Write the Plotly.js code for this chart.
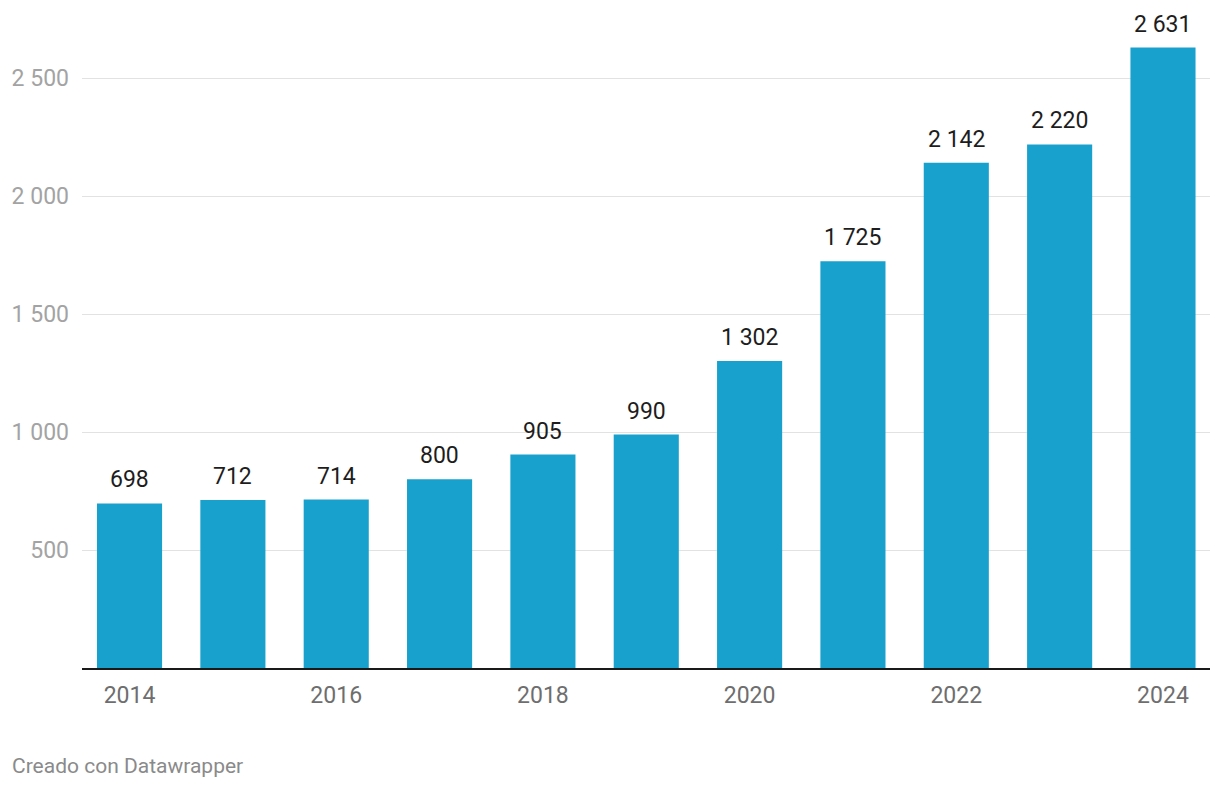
<!DOCTYPE html>
<html>
<head>
<meta charset="utf-8">
<script src="https://cdn.plot.ly/plotly-3.0.1.min.js"></script>
<style>
html,body{margin:0;padding:0;background:#fff;}
#chart{width:1220px;height:790px;}
</style>
</head>
<body>
<div id="chart"></div>
<script>
const years = [2014, 2015, 2016, 2017, 2018, 2019, 2020, 2021, 2022, 2023, 2024];
const values = [698, 712, 714, 800, 905, 990, 1302, 1725, 2142, 2220, 2631];
const xTickVals = [2014, 2016, 2018, 2020, 2022, 2024];
const yTickVals = [500, 1000, 1500, 2000, 2500];
const yTickText = ['500', '1 000', '1 500', '2 000', '2 500'];

function fmt(v){ return String(v).replace(/\B(?=(\d{3})+(?!\d))/g, ' '); }

const trace = {
  type: 'bar',
  x: years,
  y: values,
  width: 0.63,
  marker: {color: '#18a1cd'},
  hoverinfo: 'skip'
};

const annotations = years.map((yr, i) => ({
  x: yr, y: values[i], xref: 'x', yref: 'y',
  text: fmt(values[i]),
  showarrow: false,
  yanchor: 'bottom',
  yshift: 8,
  font: {family: 'Roboto', size: 23, color: '#1d1d1d'}
}));

annotations.push({
  xref: 'paper', yref: 'paper', x: -72/1128, y: -0.128,
  xanchor: 'left', yanchor: 'top',
  text: 'Creado con Datawrapper', showarrow: false,
  font: {family: 'Roboto', size: 21, color: '#8a8a8a'}
});

const layout = {
  width: 1220, height: 790,
  margin: {l: 82, r: 10, t: 10, b: 122},
  paper_bgcolor: '#fff', plot_bgcolor: '#fff',
  showlegend: false,
  font: {family: 'Roboto'},
  xaxis: {
    range: [2013.54, 2024.455],
    tickvals: xTickVals,
    ticktext: xTickVals.map(String),
    showgrid: false, zeroline: false,
    showline: true, linecolor: '#1a1a1a', linewidth: 2,
    ticks: '', ticklabelstandoff: 5,
    tickfont: {family: 'Roboto', size: 23, color: '#6e6e6e'},
    fixedrange: true
  },
  yaxis: {
    range: [0, 2790],
    tickvals: yTickVals,
    ticktext: yTickText,
    showgrid: true, gridcolor: '#e2e2e2', gridwidth: 1,
    zeroline: false, showline: false,
    ticks: '', ticklabelstandoff: 12,
    tickfont: {family: 'Roboto', size: 23, color: '#a3a3a3'},
    fixedrange: true
  },
  annotations: annotations
};

Plotly.newPlot('chart', [trace], layout, {displayModeBar: false, staticPlot: true});
</script>
</body>
</html>
